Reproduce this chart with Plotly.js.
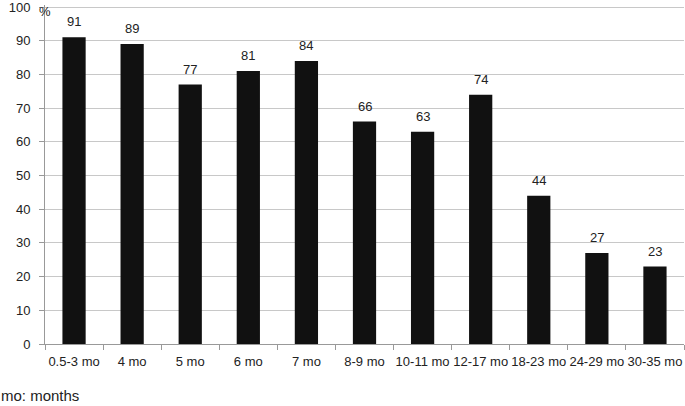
<!DOCTYPE html>
<html>
<head>
<meta charset="utf-8">
<script src="https://cdn.plot.ly/plotly-3.0.1.min.js"></script>
<style>html,body{margin:0;padding:0;background:#fff}#chart{width:685px;height:406px}</style>
</head>
<body>
<div id="chart"></div>
<script>
// age groups and share (%)
const ageGroups=["0.5-3 mo","4 mo","5 mo","6 mo","7 mo","8-9 mo","10-11 mo","12-17 mo","18-23 mo","24-29 mo","30-35 mo"];
const shares=[91,89,77,81,84,66,63,74,44,27,23];
const yTicks=[0,10,20,30,40,50,60,70,80,90,100];

const font={family:"Liberation Sans, Arial, sans-serif",size:13,color:"#222"};
const trace={type:"bar",x:ageGroups,y:shares,marker:{color:"#111",line:{width:0}},hoverinfo:"skip"};

// value labels sit a little above each bar
const valueLabels=ageGroups.map((c,i)=>({x:c,y:shares[i],text:String(shares[i]),xref:"x",yref:"y",
  yanchor:"bottom",yshift:6,showarrow:false,font:font}));

Plotly.newPlot("chart",[trace],{
  width:685,height:406,font:font,showlegend:false,bargap:0.6,
  margin:{l:45,r:1,t:5,b:62},paper_bgcolor:"#fff",plot_bgcolor:"#fff",
  xaxis:{type:"category",tickson:"boundaries",ticks:"outside",ticklen:5,tickcolor:"#999",tickangle:0,
    ticklabelstandoff:5,showline:true,linecolor:"#999",showgrid:false,tickfont:font,automargin:false},
  yaxis:{range:[0,100.6],tickvals:yTicks,ticks:"outside",ticklen:5,tickcolor:"#999",ticklabelstandoff:6,
    ticklabeloverflow:"allow",showline:true,linecolor:"#999",gridcolor:"#c8c8c8",zeroline:false,
    tickfont:font,automargin:false},
  annotations:valueLabels.concat([
    {text:"%",xref:"paper",yref:"paper",x:0,y:1,xanchor:"left",yanchor:"top",xshift:-8,yshift:3,showarrow:false,font:font},
    {text:"mo: months",xref:"paper",yref:"paper",x:0,y:0,xanchor:"left",yanchor:"middle",xshift:-46,yshift:-51,
      showarrow:false,font:Object.assign({},font,{size:15})}
  ])
},{displayModeBar:false,staticPlot:true});
</script>
</body>
</html>
